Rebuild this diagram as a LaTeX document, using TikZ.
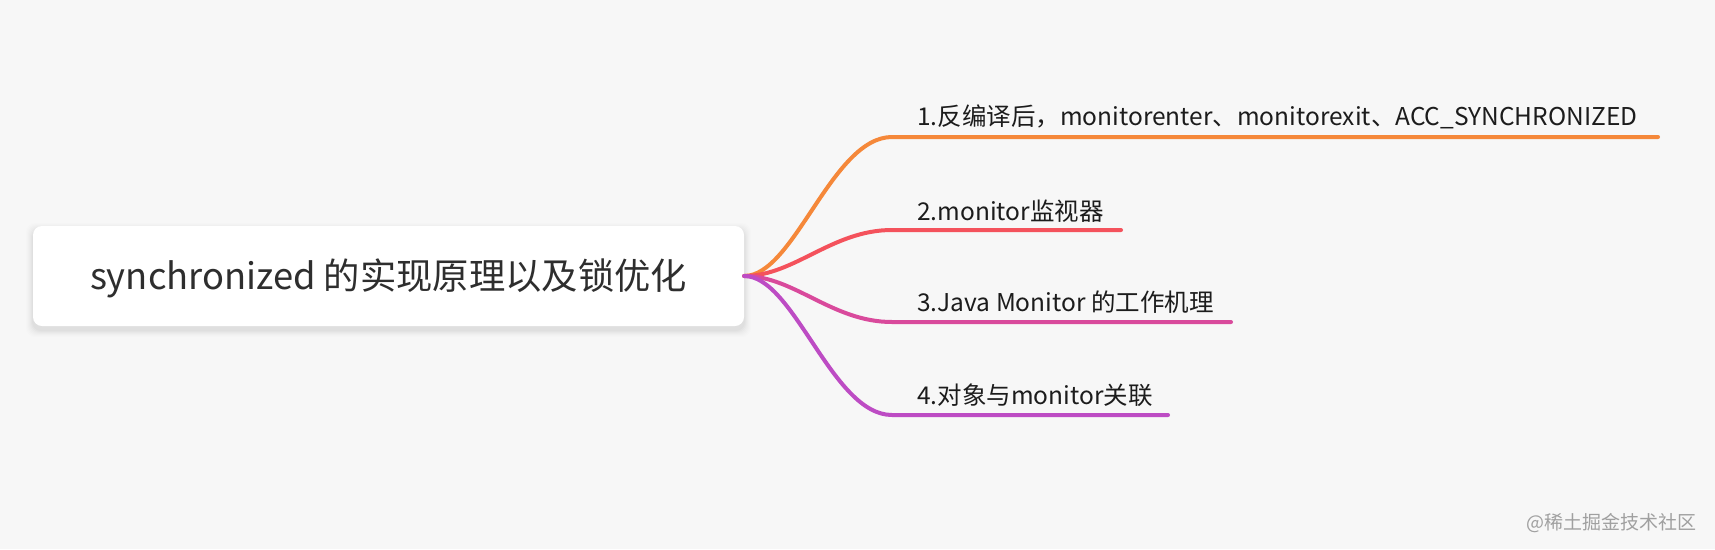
\documentclass[tikz,border=0pt]{standalone}
\usepackage{fontspec}
\newfontfamily\cjk{Noto Sans CJK SC}
\definecolor{bgc}{HTML}{F7F7F7}
\definecolor{cOrange}{HTML}{F5883A}
\definecolor{cRed}{HTML}{F4525C}
\definecolor{cMagenta}{HTML}{D94A9C}
\definecolor{cPurple}{HTML}{BD4CC4}
\definecolor{rootText}{HTML}{2E2E2E}
\definecolor{leafText}{HTML}{1C1C1C}
\definecolor{wmText}{HTML}{A0A0A0}
\tikzset{
  leaf/.style={anchor=base west, inner sep=0pt, text=leafText, font=\cjk\fontsize{24.5}{28}\selectfont},
  branch/.style={line width=4pt, line cap=round},
}
\begin{document}
\begin{tikzpicture}[x=1pt,y=-1pt]
\fill[bgc] (0,0) rectangle (1715,549);
\useasboundingbox (0,0) rectangle (1715,549);
% shadow
\foreach \i/\o in {1/0.02,2/0.018,3/0.015,4/0.012,5/0.01,6/0.008,7/0.006}{
  \fill[black,opacity=\o,rounded corners=9pt] (33-\i,226+4-\i) rectangle (744+\i,326+4+\i);
}
\fill[white,rounded corners=9pt] (33,226) rectangle (744,326);
\node[anchor=center, inner sep=0pt, minimum width=711pt, minimum height=100pt] (root) at (388.5,276) {};
\node[anchor=base, inner sep=0pt, text=rootText, font=\cjk\fontsize{36.3}{40}\selectfont] (roottext) at (388.5,289.5) {synchronized 的实现原理以及锁优化};
\coordinate (o) at (root.east);
% branches
\coordinate (e1) at (892,137); \coordinate (f1) at (1658,137);
\coordinate (e2) at (892,230); \coordinate (f2) at (1121,230);
\coordinate (e3) at (892,322); \coordinate (f3) at (1231,322);
\coordinate (e4) at (892,415); \coordinate (f4) at (1168,415);
\draw[branch,cOrange] (o) .. controls ([xshift=50pt]o) and ([xshift=-60pt]e1) .. (e1) -- (f1);
\draw[branch,cRed] (o) .. controls ([xshift=50pt]o) and ([xshift=-60pt]e2) .. (e2) -- (f2);
\draw[branch,cMagenta] (o) .. controls ([xshift=50pt]o) and ([xshift=-60pt]e3) .. (e3) -- (f3);
\draw[branch,cPurple] (o) .. controls ([xshift=50pt]o) and ([xshift=-60pt]e4) .. (e4) -- (f4);
\node[leaf] (t1) at (917,125) {1.反编译后，monitorenter、monitorexit、ACC\_SYNCHRONIZED};
\node[leaf] (t2) at (917,220) {2.monitor监视器};
\node[leaf] (t3) at (917,311) {3.Java Monitor 的工作机理};
\node[leaf] (t4) at (917,404) {4.对象与monitor关联};
\node[anchor=base east, inner sep=0pt, text=wmText, font=\cjk\fontsize{19}{22}\selectfont] (wm) at (1697,529) {@稀土掘金技术社区};
\end{tikzpicture}
\end{document}
